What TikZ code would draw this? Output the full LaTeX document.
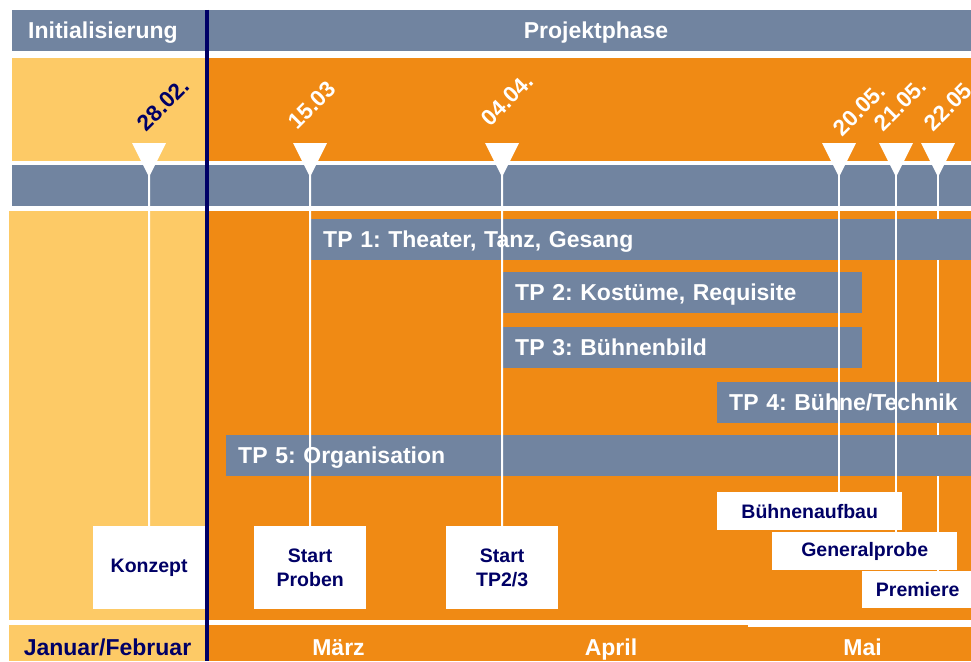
\documentclass[tikz,border=0pt]{standalone}
\usepackage{fontspec}
\setmainfont{Liberation Sans}
\usepackage{tikz}
\frenchspacing

\definecolor{slate}{RGB}{113,132,160}
\definecolor{orng}{RGB}{240,138,20}
\definecolor{yell}{RGB}{253,202,102}
\definecolor{navy}{RGB}{0,0,102}

\pgfdeclarelayer{bands}
\pgfdeclarelayer{low}
\pgfdeclarelayer{bars}
\pgfdeclarelayer{pins}
\pgfsetlayers{bands,low,bars,pins,main}

\tikzset{
  bar/.style={fill=slate,text=white,anchor=north west,minimum height=41pt,inner xsep=12pt,inner ysep=0pt,
    align=left,text height=16.5pt,text depth=0pt,font=\fontsize{23}{26}\selectfont\bfseries},
  mbox/.style={fill=white,text=navy,anchor=north west,inner sep=0pt,align=center,
    font=\fontsize{19.5}{24}\selectfont\bfseries},
  datum/.style={rotate=45,anchor=south west,inner sep=0pt,text=white,font=\fontsize{22.5}{24}\selectfont\bfseries},
  head/.style={text=white,anchor=base,inner sep=0pt,font=\fontsize{23}{26}\selectfont\bfseries},
  pin/.style={draw=white,line width=2pt}
}

\begin{document}
\begin{tikzpicture}[line cap=butt,line join=miter,x=1pt,y=-1pt]
\useasboundingbox (0,0) rectangle (971,661);
% Hintergrund
\begin{pgfonlayer}{bands}
\fill[slate] (12,10) rectangle (971,51);
\fill[yell] (12,58) rectangle (207,161);
\fill[orng] (207,58) rectangle (971,161);
\fill[slate] (12,165) rectangle (971,206);
\fill[yell] (9,211) rectangle (207,620);
\fill[orng] (207,211) rectangle (971,620);
\fill[yell] (9,625) rectangle (207,661);
\fill[orng] (207,625) rectangle (748,661);
\fill[orng] (748,627) rectangle (971,661);
\end{pgfonlayer}
\draw[navy,line width=4pt] (207,10) -- (207,661);
% Kopf und Monate
\node[head] (init) at (103,38.5) {Initialisierung};
\node[head] (phase) at (596,38.5) {Projektphase};
\node[head,text=navy] (jf) at (107.5,655) {Januar/Februar};
\node[head] (maerz) at (338.5,655) {März};
\node[head] (april) at (611,655) {April};
\node[head] (mai) at (862.5,655) {Mai};
% Meilensteine
\foreach \x/\n in {149/m1,310/m2,502/m3,839/m4,896/m5,938/m6}{
  \fill[white] (\x-17,143) -- (\x+17,143) -- (\x,177) -- cycle;
  \coordinate (\n) at (\x,175);
}
\node[datum,text=navy] (d1) at (146.5,132.5) {28.02.};
\node[datum] (d2) at (297.5,131) {15.03};
\node[datum] (d3) at (490.5,127.5) {04.04.};
\node[datum] (d4) at (842.5,137.5) {20.05.};
\node[datum] (d5) at (883.5,132.5) {21.05.};
\node[datum] (d6) at (933.5,132.5) {22.05};
% Teilprojekte
\begin{pgfonlayer}{bars}
\node[bar,text width=660pt] (tp1) at (311,219) {TP 1: Theater, Tanz, Gesang};
\node[bar,text width=335pt] (tp2) at (503,272) {TP 2: Kostüme, Requisite};
\node[bar,text width=335pt] (tp3) at (503,327) {TP 3: Bühnenbild};
\node[bar,text width=280pt] (tp4) at (717,382) {TP 4: Bühne/Technik};
\node[bar,text width=740pt] (tp5) at (226,435) {TP 5: Organisation};
\end{pgfonlayer}
% Kaesten
\node[mbox,minimum width=112pt,minimum height=83pt] (konzept) at (93,526) {Konzept};
\node[mbox,minimum width=112pt,minimum height=83pt] (proben) at (254,526) {Start\\Proben};
\node[mbox,minimum width=112pt,minimum height=83pt] (tpstart) at (446,526) {Start\\TP2/3};
\node[mbox,minimum width=185pt,minimum height=38pt] (aufbau) at (717,492) {Bühnenaufbau};
\node[mbox,minimum width=185pt,minimum height=38pt] (gprobe) at (772,532) {Generalprobe};
\node[mbox,minimum width=111pt,minimum height=37pt] (premiere) at (862,571) {Premiere};
\begin{pgfonlayer}{pins}
\draw[pin] (m1) -- (konzept.north);
\draw[pin] (m2) -- (proben.north);
\draw[pin] (m3) -- (tpstart.north);
\draw[pin] (m4) -- (m4 |- aufbau.north);
\draw[pin] (m5) -- (m5 |- gprobe.north);
\end{pgfonlayer}
\begin{pgfonlayer}{low}
\draw[pin] (m6) -- (m6 |- premiere.north);
\end{pgfonlayer}
\end{tikzpicture}
\end{document}
